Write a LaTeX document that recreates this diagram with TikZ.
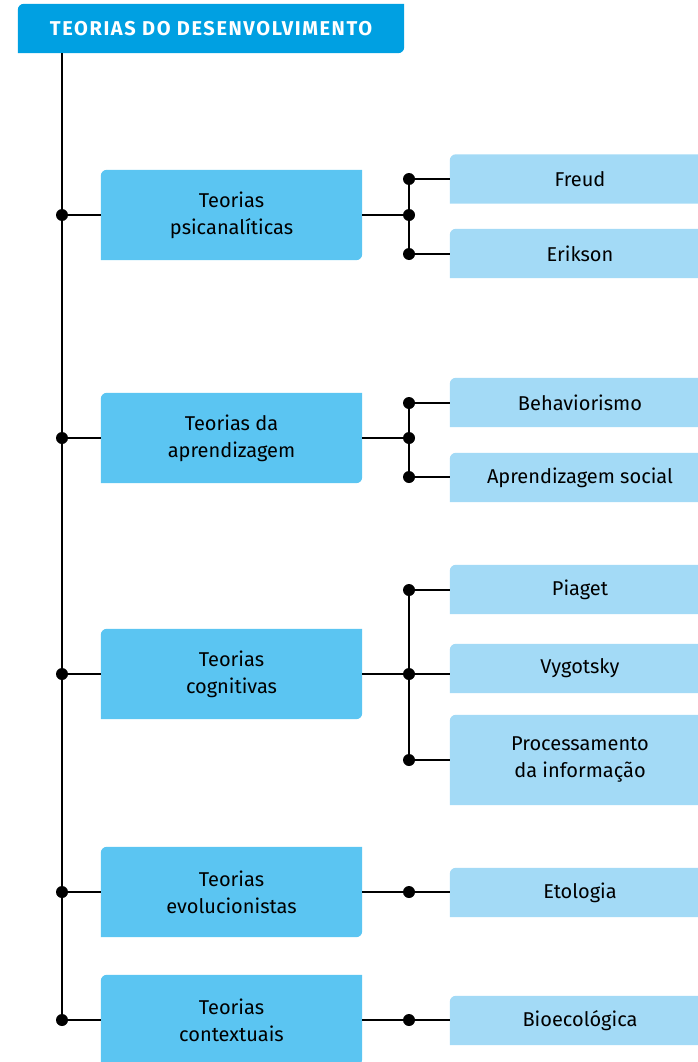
\documentclass[tikz,border=0pt]{standalone}
\usepackage{fontspec}
\setmainfont{Fira Sans}
\usetikzlibrary{backgrounds}
\definecolor{hdrblue}{HTML}{00A0E2}
\definecolor{mainblue}{HTML}{5BC5F2}
\definecolor{subblue}{HTML}{A3DAF6}
\tikzset{
  lbl/.style={inner sep=0pt, align=center, font=\fontsize{20}{27}\selectfont, text=black},
  hdrbox/.style={lbl, minimum width=386pt, minimum height=49pt, text=white, font=\fontsize{20}{22}\selectfont\bfseries\addfontfeatures{LetterSpace=8}},
  mainbox/.style={lbl, minimum width=261pt, minimum height=90pt},
  subbox/.style={lbl, minimum width=260pt, minimum height=49pt},
  subtall/.style={lbl, minimum width=260pt, minimum height=90pt},
  wire/.style={line width=2.8pt, black},
  dot/.style={circle, fill=black, inner sep=0pt, minimum size=12pt},
}
\newcommand{\bothround}[2]{\fill[#2] (#1.south west) -- ([yshift=-6pt]#1.north west) arc[start angle=180,end angle=90,radius=6pt] -- (#1.north east) -- ([yshift=6pt]#1.south east) arc[start angle=0,end angle=-90,radius=6pt] -- cycle;}
\newcommand{\tlround}[2]{\fill[#2] (#1.south west) -- ([yshift=-6pt]#1.north west) arc[start angle=180,end angle=90,radius=6pt] -- (#1.north east) -- (#1.south east) -- cycle;}
\begin{document}
\begin{tikzpicture}[x=1pt,y=1pt]
\useasboundingbox (0,0) rectangle (697,-1062);
% header
\node[hdrbox] (hdr) at (211,-28.5) {TEORIAS DO DESENVOLVIMENTO};
% main boxes
\node[mainbox] (m1) at (231.5,-215) {Teorias\\psicanalíticas};
\node[mainbox] (m2) at (231.5,-438) {Teorias da\\aprendizagem};
\node[mainbox] (m3) at (231.5,-674) {Teorias\\cognitivas};
\node[mainbox] (m4) at (231.5,-892) {Teorias\\evolucionistas};
\node[mainbox] (m5) at (231.5,-1020) {Teorias\\contextuais};
% sub boxes
\node[subbox] (s11) at (580,-179) {Freud};
\node[subbox] (s12) at (580,-253.5) {Erikson};
\node[subbox] (s21) at (580,-402.5) {Behaviorismo};
\node[subbox] (s22) at (580,-477.5) {Aprendizagem social};
\node[subbox] (s31) at (580,-589.5) {Piaget};
\node[subbox] (s32) at (580,-668.5) {Vygotsky};
\node[subtall] (s33) at (580,-760) {Processamento\\da informação};
\node[subbox] (s4) at (580,-892.5) {Etologia};
\node[subbox] (s5) at (580,-1020.5) {Bioecológica};
\begin{scope}[on background layer]
  \bothround{hdr}{hdrblue}
  \foreach \n in {m1,m2,m3,m4,m5} {\bothround{\n}{mainblue}}
  \foreach \n in {s11,s12,s21,s22,s31,s32,s33,s4,s5} {\tlround{\n}{subblue}}
\end{scope}
% junction coordinates
\coordinate (j1) at (62,-215);
\coordinate (j2) at (62,-438);
\coordinate (j3) at (62,-674);
\coordinate (j4) at (62,-892);
\coordinate (j5) at (62,-1020);
\coordinate (k1) at (409,-215);
\coordinate (k11) at (409,-179);
\coordinate (k12) at (409,-254);
\coordinate (k2) at (409,-438);
\coordinate (k21) at (409,-403);
\coordinate (k22) at (409,-477);
\coordinate (k3) at (409,-674);
\coordinate (k31) at (409,-590);
\coordinate (k33) at (409,-760);
\coordinate (k4) at (409,-892);
\coordinate (k5) at (409,-1020);
% trunk
\draw[wire] (j1 |- hdr.south) -- (j5);
\foreach \i in {1,...,5} {\draw[wire] (j\i) -- (m\i.west);}
\foreach \i in {1,...,5} {\draw[wire] (m\i.east) -- (k\i);}
% group 1
\draw[wire] (k11) -- (k12);
\draw[wire] (k11) -- (s11.west);
\draw[wire] (k12) -- (k12 -| s12.west);
% group 2
\draw[wire] (k21) -- (k22);
\draw[wire] (k21) -- (k21 -| s21.west);
\draw[wire] (k22) -- (k22 -| s22.west);
% group 3
\draw[wire] (k31) -- (k33);
\draw[wire] (k31) -- (k31 -| s31.west);
\draw[wire] (k3) -- (k3 -| s32.west);
\draw[wire] (k33) -- (s33.west);
% groups 4,5
\draw[wire] (k4) -- (k4 -| s4.west);
\draw[wire] (k5) -- (k5 -| s5.west);
% dots
\foreach \c in {j1,j2,j3,j4,j5,k1,k11,k12,k2,k21,k22,k3,k31,k33,k4,k5}
  {\node[dot] at (\c) {};}
\end{tikzpicture}
\end{document}
